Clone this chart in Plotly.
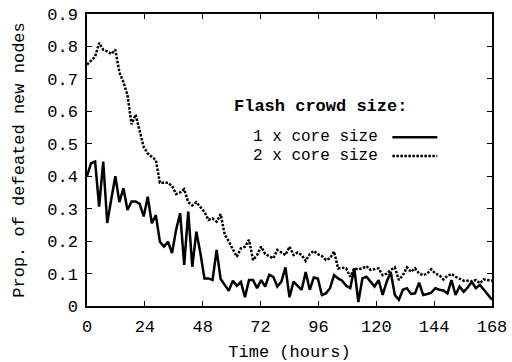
import plotly.graph_objects as go

step = 1.68
solid = [0.40, 0.44, 0.445, 0.306, 0.445, 0.256, 0.33, 0.40, 0.32, 0.363,
         0.296, 0.322, 0.322, 0.315, 0.276, 0.337, 0.255, 0.28, 0.198, 0.183,
         0.198, 0.163, 0.235, 0.286, 0.127, 0.291, 0.121, 0.229, 0.163, 0.085,
         0.085, 0.08, 0.173, 0.083, 0.065, 0.047, 0.078, 0.062, 0.074, 0.027,
         0.08, 0.08, 0.055, 0.08, 0.06, 0.096, 0.09, 0.06, 0.075, 0.119,
         0.027, 0.075, 0.062, 0.05, 0.105, 0.05, 0.088, 0.085, 0.034, 0.039,
         0.055, 0.095, 0.085, 0.078, 0.062, 0.055, 0.116, 0.012, 0.085, 0.09,
         0.075, 0.06, 0.08, 0.034, 0.075, 0.105, 0.034, 0.019, 0.05, 0.055,
         0.037, 0.039, 0.072, 0.034, 0.037, 0.041, 0.055, 0.05, 0.048, 0.039,
         0.08, 0.034, 0.06, 0.044, 0.057, 0.075, 0.055, 0.065, 0.05, 0.034,
         0.019]
dotted = [0.744, 0.757, 0.768, 0.811, 0.79, 0.785, 0.777, 0.79, 0.72, 0.69,
          0.65, 0.56, 0.59, 0.54, 0.49, 0.47, 0.46, 0.45, 0.38, 0.38,
          0.38, 0.37, 0.345, 0.35, 0.36, 0.32, 0.31, 0.32, 0.305, 0.29,
          0.265, 0.27, 0.26, 0.283, 0.22, 0.20, 0.175, 0.152, 0.178, 0.183,
          0.204, 0.142, 0.157, 0.183, 0.16, 0.154, 0.147, 0.173, 0.165, 0.157,
          0.183, 0.157, 0.165, 0.157, 0.139, 0.16, 0.17, 0.16, 0.154, 0.142,
          0.147, 0.168, 0.116, 0.118, 0.116, 0.09, 0.116, 0.113, 0.116, 0.123,
          0.111, 0.113, 0.116, 0.095, 0.10, 0.111, 0.119, 0.08, 0.095, 0.119,
          0.105, 0.116, 0.10, 0.095, 0.10, 0.113, 0.10, 0.095, 0.082, 0.093,
          0.099, 0.09, 0.085, 0.078, 0.078, 0.075, 0.08, 0.07, 0.082, 0.08,
          0.078]
hours = [round(i * step, 3) for i in range(len(solid))]
x_ticks = [0, 24, 48, 72, 96, 120, 144, 168]
y_ticks = [0, 0.1, 0.2, 0.3, 0.4, 0.5, 0.6, 0.7, 0.8, 0.9]
y_tick_text = ["0", "0.1", "0.2", "0.3", "0.4", "0.5", "0.6", "0.7", "0.8", "0.9"]
legend_title = "Flash crowd size:"
names = ["1 x core size", "2 x core size"]

FONT = "Liberation Mono, Courier New, monospace"
FS = 17

fig = go.Figure()
fig.add_trace(go.Scatter(x=hours, y=solid, mode="lines", name=names[0],
                         line=dict(color="black", width=2.5), showlegend=False))
fig.add_trace(go.Scatter(x=hours, y=dotted, mode="lines", name=names[1],
                         line=dict(color="black", width=2.5, dash="2.5px,1.5px"),
                         showlegend=False))

axis_common = dict(showline=True, linecolor="black", linewidth=1.5, mirror="ticks",
                   ticks="inside", ticklen=5, tickcolor="black", tickwidth=1,
                   showgrid=False, zeroline=False, automargin=False,
                   tickfont=dict(family=FONT, size=FS, color="black"))

fig.update_xaxes(range=[0, 168], tickvals=x_ticks, ticklabelstandoff=4,
                 title=dict(text="Time (hours)", font=dict(family=FONT, size=FS, color="black"), standoff=10),
                 **axis_common)
fig.update_yaxes(range=[0, 0.9], tickvals=y_ticks, ticktext=y_tick_text, ticklabelstandoff=4,
                 title=dict(text="Prop. of defeated new nodes", font=dict(family=FONT, size=FS, color="black"), standoff=18),
                 **axis_common)

# legend drawn manually (text left of sample line)
fig.add_annotation(x=0.576, y=0.723, xref="paper", yref="paper", text="<b>" + legend_title + "</b>",
                   showarrow=False, font=dict(family=FONT, size=FS, color="black"))
for k, (nm, yy) in enumerate(zip(names, [0.578, 0.514])):
    fig.add_annotation(x=0.724, y=yy, xref="paper", yref="paper", text=nm, xanchor="right",
                       showarrow=False, font=dict(family=FONT, size=16, color="black"))
    fig.add_shape(type="line", xref="paper", yref="paper", x0=0.754, x1=0.865, y0=yy, y1=yy,
                  line=dict(color="black", width=2.5, dash="solid" if k == 0 else "2.5px,1.5px"))

fig.update_layout(width=512, height=362, margin=dict(l=86.5, r=20.3, t=14, b=56),
                  plot_bgcolor="white", paper_bgcolor="white",
                  font=dict(family=FONT, size=FS, color="black"))

fig.write_html("out.html")
